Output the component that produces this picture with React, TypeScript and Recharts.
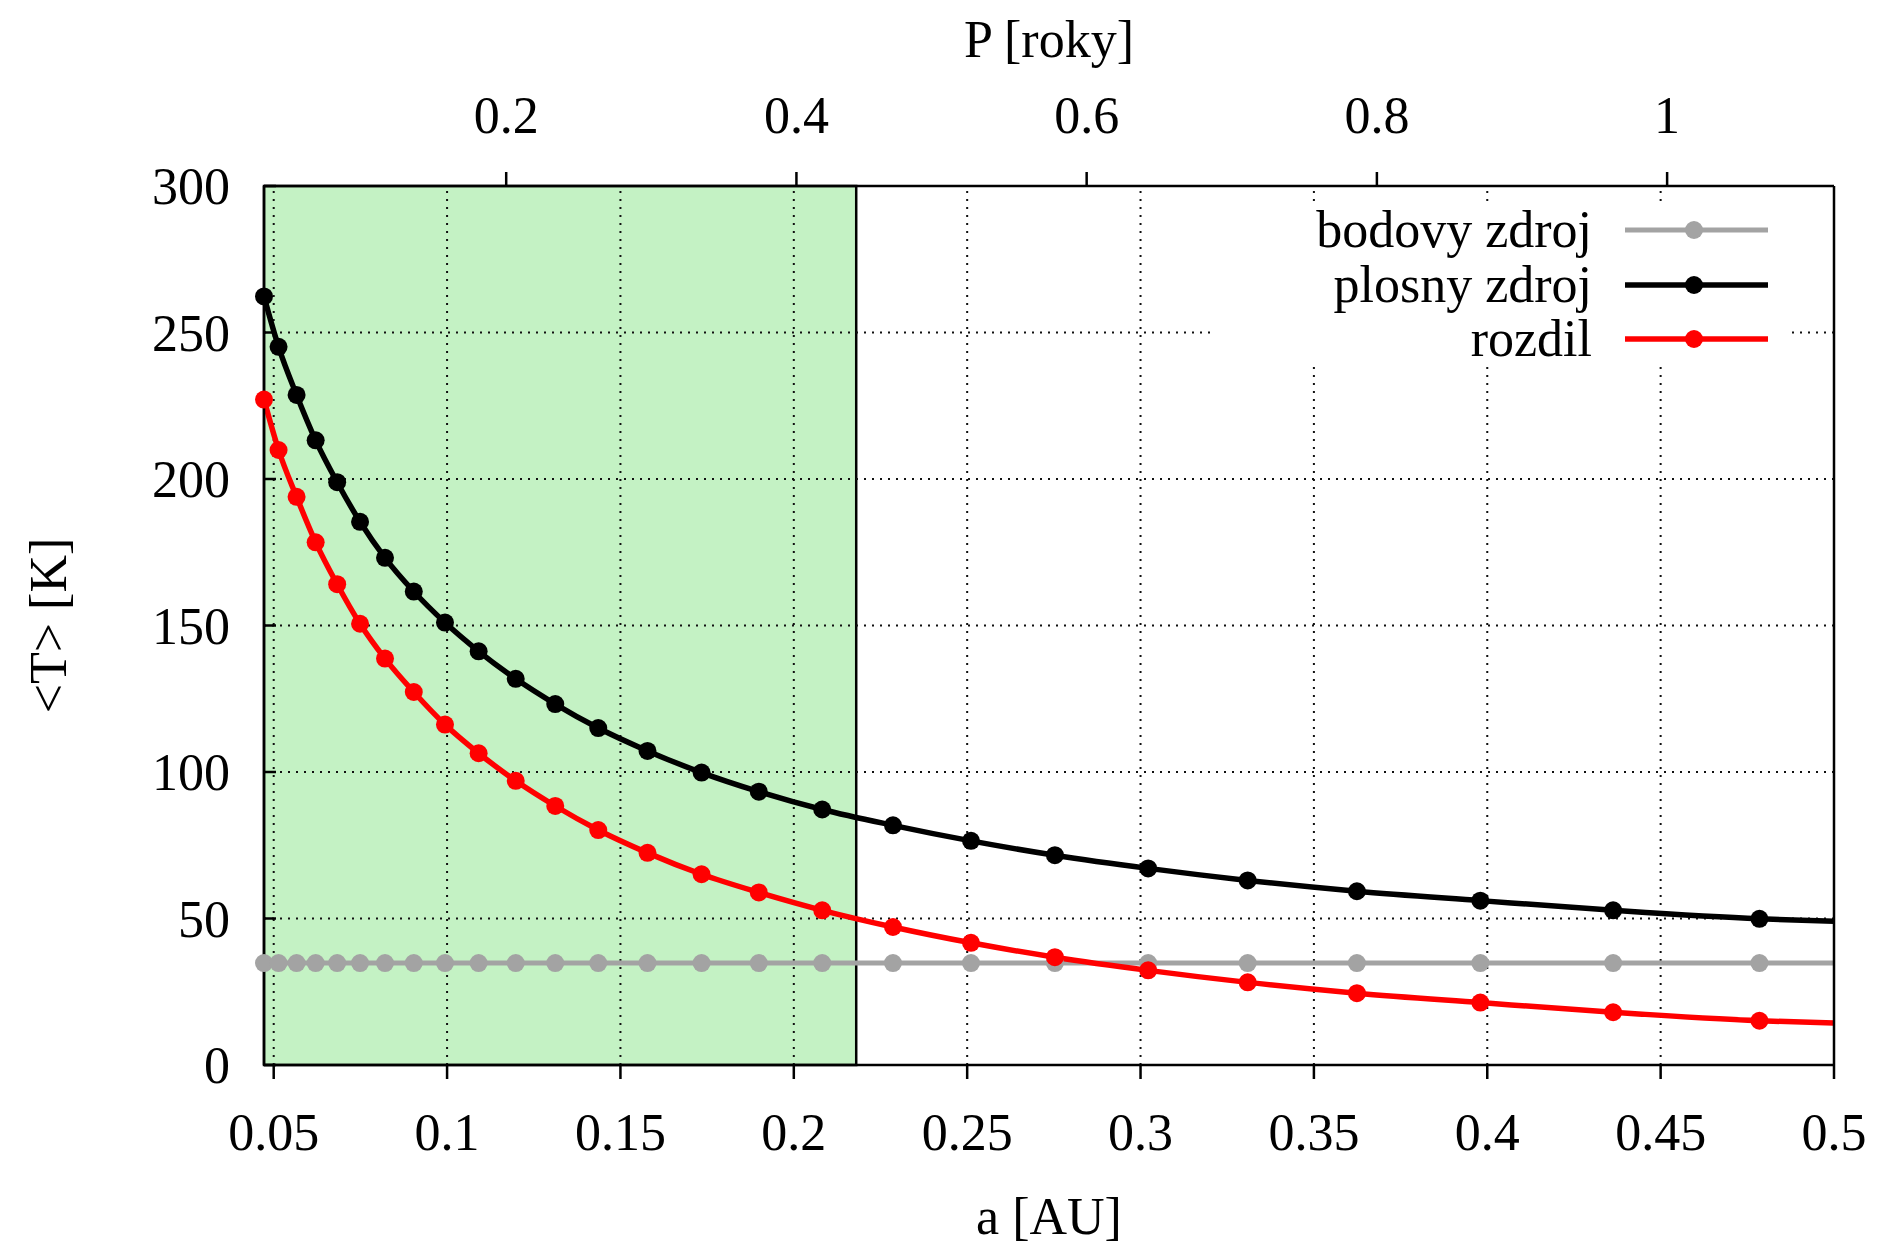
import React from "react";
import {
  LineChart,
  Line,
  XAxis,
  YAxis,
  ReferenceArea,
  ReferenceLine,
  Legend,
} from "recharts";

// a [AU] of each computed point (last one is the right edge, no marker)
const aValues = [
  0.0472, 0.0514, 0.0566, 0.0621, 0.0683, 0.0749, 0.0821, 0.0904, 0.0994,
  0.1091, 0.1198, 0.1312, 0.1436, 0.1578, 0.1734, 0.1899, 0.2082, 0.2286,
  0.2511, 0.2753, 0.3022, 0.3309, 0.3624, 0.398, 0.4363, 0.4785, 0.5,
];
const bodovy = [
  34.8, 34.8, 34.8, 34.8, 34.8, 34.8, 34.8, 34.8, 34.8, 34.8, 34.8, 34.8,
  34.8, 34.8, 34.8, 34.8, 34.8, 34.8, 34.8, 34.8, 34.8, 34.8, 34.8, 34.8,
  34.8, 34.8, 34.8,
];
const plosny = [
  262.3, 245.1, 228.7, 213.2, 198.9, 185.4, 173.1, 161.6, 151.0, 141.2, 131.8,
  123.2, 115.0, 107.2, 99.8, 93.3, 87.2, 81.8, 76.5, 71.6, 67.1, 63.0, 59.3,
  56.1, 52.8, 49.9, 49.1,
];
const rozdil = [
  227.1, 209.9, 193.9, 178.4, 164.1, 150.6, 138.7, 127.3, 116.2, 106.4, 97.0,
  88.4, 80.2, 72.4, 65.1, 58.9, 52.8, 47.1, 41.7, 36.8, 32.3, 28.2, 24.5, 21.3,
  18.0, 15.1, 14.3,
];

const aDomain = [0.0472, 0.5];
const aTicks = [0.05, 0.1, 0.15, 0.2, 0.25, 0.3, 0.35, 0.4, 0.45, 0.5];
const aGrid = [0.05, 0.1, 0.15, 0.2, 0.25, 0.3, 0.35, 0.4, 0.45];
const pDomain = [0.0331, 1.115];
const pTicks = [0.2, 0.4, 0.6, 0.8, 1];
const tTicks = [0, 50, 100, 150, 200, 250, 300];
const tGrid = [50, 100, 150, 200, 250];
const greenEdge = 0.218;

const series = [
  { key: "bodovy", name: "bodovy zdroj", color: "#a3a3a3", width: 5 },
  { key: "plosny", name: "plosny zdroj", color: "#000000", width: 5.5 },
  { key: "rozdil", name: "rozdil", color: "#ff0000", width: 5.5 },
];

const FONT = '"Liberation Serif", "Times New Roman", serif';
const FS = 52;

const makeDot = (color: string) => (props: any) => {
  const { cx, cy, index } = props;
  if (index === aValues.length - 1 || cx == null) return <g key={index} />;
  return <circle key={index} cx={cx} cy={cy} r={9} fill={color} />;
};

const LegendBox = () => (
  <div style={{ width: "100%", height: "100%", background: "#fff" }}>
    {series.map((s) => (
      <div
        key={s.key}
        style={{ display: "flex", alignItems: "center", height: 54.5 }}
      >
        <span
          style={{
            width: 381,
            textAlign: "right",
            fontFamily: FONT,
            fontSize: FS,
            lineHeight: "54px",
            color: "#000",
            whiteSpace: "nowrap",
          }}
        >
          {s.name}
        </span>
        <svg width={143} height={54} style={{ marginLeft: 33 }}>
          <line x1={0} x2={143} y1={27} y2={27} stroke={s.color} strokeWidth={s.width} />
          <circle cx={69} cy={27} r={9} fill={s.color} />
        </svg>
      </div>
    ))}
  </div>
);

export default function App() {
  const data = aValues.map((a, i) => ({
    a,
    bodovy: bodovy[i],
    plosny: plosny[i],
    rozdil: rozdil[i],
  }));

  const tickStyle = { fill: "#000", fontSize: FS, fontFamily: FONT };
  const axisStroke = { stroke: "#000", strokeWidth: 2.5 };

  return (
    <div
      style={{
        position: "absolute",
        left: 0,
        top: 0,
        width: 1880,
        height: 1244,
        background: "#fff",
      }}
    >
      <LineChart
        width={1880}
        height={1244}
        data={data}
        margin={{ top: 0, right: 45, bottom: 0, left: 0 }}
      >
        <XAxis
          xAxisId="bottom"
          dataKey="a"
          type="number"
          domain={aDomain}
          ticks={aTicks}
          height={179}
          tickSize={14}
          tickMargin={34}
          tick={tickStyle}
          axisLine={axisStroke}
          tickLine={axisStroke}
          label={{
            value: "a [AU]",
            position: "insideBottom",
            offset: 10,
            style: { fill: "#000", fontSize: FS, fontFamily: FONT },
          }}
        />
        <XAxis
          xAxisId="top"
          dataKey="periodNone"
          orientation="top"
          type="number"
          scale="linear"
          domain={pDomain}
          allowDataOverflow
          ticks={pTicks}
          height={186}
          tickSize={14}
          tickMargin={39}
          tick={tickStyle}
          axisLine={axisStroke}
          tickLine={axisStroke}
          label={{
            value: "P [roky]",
            position: "insideTop",
            offset: 20,
            style: { fill: "#000", fontSize: FS, fontFamily: FONT },
          }}
        />
        <YAxis
          yAxisId="left"
          type="number"
          domain={[0, 300]}
          ticks={tTicks}
          width={264}
          tickSize={-12}
          tickMargin={46}
          tick={tickStyle}
          axisLine={axisStroke}
          tickLine={axisStroke}
          label={{
            content: (p: any) => {
              const vb = p.viewBox || {};
              const cx = 66;
              const cy = (vb.y || 0) + (vb.height || 0) / 2;
              return (
                <text
                  x={cx}
                  y={cy}
                  transform={`rotate(-90 ${cx} ${cy})`}
                  textAnchor="middle"
                  fill="#000"
                  fontSize={FS}
                  fontFamily={FONT}
                >
                  {"<T> [K]"}
                </text>
              );
            },
          }}
        />
        <YAxis
          yAxisId="right"
          orientation="right"
          type="number"
          domain={[0, 300]}
          ticks={tTicks}
          width={1}
          tickSize={-12}
          tick={false}
          axisLine={axisStroke}
          tickLine={axisStroke}
        />

        <ReferenceArea
          xAxisId="bottom"
          yAxisId="left"
          x1={aDomain[0]}
          x2={greenEdge}
          y1={0}
          y2={300}
          fill="#c4f2c4"
          fillOpacity={1}
          stroke="#000"
          strokeWidth={2.5}
        />
        {aGrid.map((v) => (
          <ReferenceLine
            key={`vx${v}`}
            xAxisId="bottom"
            yAxisId="left"
            x={v}
            stroke="#111"
            strokeWidth={2}
            strokeDasharray="2 6"
          />
        ))}
        {tGrid.map((v) => (
          <ReferenceLine
            key={`hy${v}`}
            xAxisId="bottom"
            yAxisId="left"
            y={v}
            stroke="#111"
            strokeWidth={2}
            strokeDasharray="2 6"
          />
        ))}

        {series.map((s) => (
          <Line
            key={s.key}
            xAxisId="bottom"
            yAxisId="left"
            type="monotone"
            dataKey={s.key}
            name={s.name}
            stroke={s.color}
            strokeWidth={s.width}
            dot={makeDot(s.color)}
            activeDot={false}
            isAnimationActive={false}
          />
        ))}

        <Legend
          layout="horizontal"
          align="center"
          verticalAlign="middle"
          content={() => <LegendBox />}
          wrapperStyle={{
            position: "absolute",
            left: 1211,
            top: 203,
            width: 576,
            height: 164,
            background: "#fff",
          }}
        />
      </LineChart>
    </div>
  );
}
